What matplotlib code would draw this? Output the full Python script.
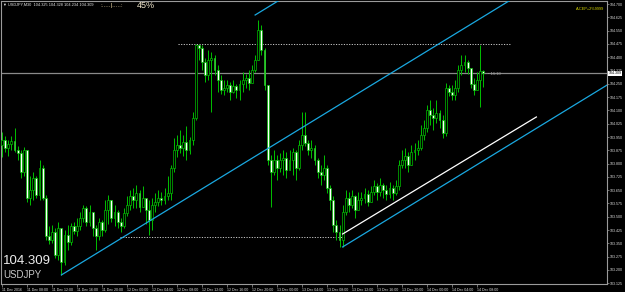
import matplotlib
matplotlib.use("Agg")
import matplotlib.pyplot as plt

# USDJPY M30 candles (bar 0 .. bar 154)
opens = [103.905, 103.933, 103.888, 103.911, 103.928, 103.877, 103.860, 103.753, 103.877, 103.606,
         103.651, 103.719, 103.623, 103.775, 103.606, 103.392, 103.369, 103.415, 103.285, 103.437,
         103.245, 103.398, 103.358, 103.448, 103.420, 103.448, 103.494, 103.550, 103.471, 103.527,
         103.437, 103.392, 103.471, 103.426, 103.539, 103.595, 103.494, 103.527, 103.471, 103.448,
         103.522, 103.567, 103.617, 103.595, 103.634, 103.556, 103.606, 103.539, 103.483, 103.567,
         103.584, 103.606, 103.595, 103.617, 103.634, 103.775, 103.877, 103.905, 103.888, 103.922,
         103.877, 103.933, 104.058, 104.469, 104.452, 104.373, 104.300, 104.385, 104.396, 104.328,
         104.272, 104.215, 104.227, 104.244, 104.204, 104.238, 104.215, 104.249, 104.272, 104.283,
         104.255, 104.328, 104.385, 104.554, 104.441, 104.244, 103.821, 103.753, 103.821, 103.775,
         103.821, 103.832, 103.764, 103.821, 103.866, 103.775, 103.905, 103.962, 103.916, 103.877,
         103.888, 103.821, 103.753, 103.736, 103.775, 103.663, 103.595, 103.454, 103.415, 103.369,
         103.527, 103.606, 103.567, 103.617, 103.539, 103.595, 103.606, 103.629, 103.584, 103.640,
         103.674, 103.640, 103.680, 103.651, 103.629, 103.663, 103.634, 103.674, 103.792, 103.821,
         103.843, 103.792, 103.866, 103.877, 103.888, 103.962, 104.001, 104.103, 104.074, 104.058,
         104.086, 104.046, 103.973, 104.227, 104.204, 104.187, 104.227, 104.328, 104.356, 104.373,
         104.339, 104.249, 104.215, 104.272, 104.325]
highs = [103.978, 103.956, 103.933, 103.956, 104.001, 103.900, 103.877, 103.894, 103.877, 103.730,
         103.753, 103.730, 103.821, 103.792, 103.623, 103.448, 103.454, 103.437, 103.471, 103.437,
         103.426, 103.454, 103.465, 103.471, 103.494, 103.527, 103.567, 103.561, 103.567, 103.471,
         103.454, 103.494, 103.483, 103.595, 103.623, 103.595, 103.567, 103.539, 103.494, 103.550,
         103.617, 103.651, 103.663, 103.680, 103.651, 103.674, 103.606, 103.595, 103.606, 103.634,
         103.651, 103.640, 103.663, 103.730, 103.792, 103.945, 103.962, 103.990, 103.962, 104.012,
         103.950, 104.091, 104.475, 104.475, 104.469, 104.396, 104.441, 104.430, 104.413, 104.356,
         104.300, 104.272, 104.272, 104.261, 104.272, 104.249, 104.272, 104.317, 104.306, 104.328,
         104.356, 104.413, 104.610, 104.582, 104.452, 104.244, 103.849, 103.877, 103.849, 103.860,
         103.877, 103.866, 103.877, 103.888, 103.877, 103.933, 104.091, 104.091, 103.933, 103.933,
         103.905, 103.832, 103.792, 103.849, 103.792, 103.680, 103.617, 103.483, 103.454, 103.567,
         103.651, 103.640, 103.651, 103.623, 103.640, 103.640, 103.663, 103.651, 103.674, 103.708,
         103.691, 103.719, 103.691, 103.680, 103.697, 103.680, 103.708, 103.821, 103.877, 103.888,
         103.866, 103.905, 103.916, 103.933, 104.018, 104.046, 104.131, 104.159, 104.114, 104.159,
         104.103, 104.074, 104.255, 104.244, 104.244, 104.272, 104.356, 104.413, 104.413, 104.385,
         104.339, 104.283, 104.317, 104.469, 104.328]
lows = [103.838, 103.866, 103.843, 103.877, 103.866, 103.821, 103.719, 103.730, 103.584, 103.567,
        103.595, 103.606, 103.595, 103.595, 103.369, 103.347, 103.353, 103.268, 103.257, 103.172,
        103.229, 103.313, 103.341, 103.403, 103.392, 103.426, 103.471, 103.448, 103.448, 103.392,
        103.313, 103.369, 103.392, 103.415, 103.460, 103.471, 103.448, 103.437, 103.415, 103.437,
        103.505, 103.539, 103.550, 103.550, 103.527, 103.561, 103.460, 103.398, 103.426, 103.527,
        103.561, 103.567, 103.572, 103.595, 103.595, 103.753, 103.838, 103.860, 103.843, 103.821,
        103.855, 103.905, 104.046, 104.385, 104.328, 104.261, 104.272, 104.091, 104.300, 104.204,
        104.193, 104.187, 104.204, 104.159, 104.198, 104.170, 104.159, 104.204, 104.227, 104.215,
        104.283, 104.317, 104.396, 104.413, 104.215, 103.792, 103.556, 103.736, 103.708, 103.753,
        103.736, 103.719, 103.764, 103.736, 103.708, 103.764, 103.877, 103.900, 103.849, 103.832,
        103.792, 103.719, 103.680, 103.708, 103.634, 103.539, 103.415, 103.369, 103.330, 103.330,
        103.510, 103.527, 103.550, 103.494, 103.539, 103.567, 103.578, 103.561, 103.595, 103.623,
        103.595, 103.617, 103.606, 103.595, 103.606, 103.595, 103.623, 103.651, 103.775, 103.775,
        103.753, 103.809, 103.821, 103.849, 103.877, 103.933, 103.978, 104.018, 103.990, 104.029,
        104.001, 103.945, 103.956, 104.182, 104.159, 104.159, 104.204, 104.300, 104.317, 104.306,
        104.227, 104.187, 104.227, 104.120, 104.234]
closes = [103.933, 103.888, 103.911, 103.928, 103.877, 103.860, 103.753, 103.877, 103.606, 103.651,
          103.719, 103.623, 103.775, 103.606, 103.392, 103.369, 103.415, 103.285, 103.437, 103.245,
          103.398, 103.358, 103.448, 103.420, 103.448, 103.494, 103.550, 103.471, 103.527, 103.437,
          103.392, 103.471, 103.426, 103.539, 103.595, 103.494, 103.527, 103.471, 103.448, 103.522,
          103.567, 103.617, 103.595, 103.634, 103.556, 103.606, 103.539, 103.483, 103.567, 103.584,
          103.606, 103.595, 103.617, 103.634, 103.775, 103.877, 103.905, 103.888, 103.922, 103.877,
          103.933, 104.058, 104.469, 104.452, 104.373, 104.300, 104.385, 104.396, 104.328, 104.272,
          104.215, 104.227, 104.244, 104.204, 104.238, 104.215, 104.249, 104.272, 104.283, 104.255,
          104.328, 104.385, 104.554, 104.441, 104.244, 103.821, 103.753, 103.821, 103.775, 103.821,
          103.832, 103.764, 103.821, 103.866, 103.775, 103.905, 103.962, 103.916, 103.877, 103.888,
          103.821, 103.753, 103.736, 103.775, 103.663, 103.595, 103.454, 103.415, 103.369, 103.527,
          103.606, 103.567, 103.617, 103.539, 103.595, 103.606, 103.629, 103.584, 103.640, 103.674,
          103.640, 103.680, 103.651, 103.629, 103.663, 103.634, 103.674, 103.792, 103.821, 103.843,
          103.792, 103.866, 103.877, 103.888, 103.962, 104.001, 104.103, 104.074, 104.058, 104.086,
          104.046, 103.973, 104.227, 104.204, 104.187, 104.227, 104.328, 104.356, 104.373, 104.339,
          104.249, 104.215, 104.272, 104.325, 104.309]

time_labels = ["11 Dec 2016", "11 Dec 08:00", "11 Dec 12:00", "11 Dec 16:00", "11 Dec 20:00",
               "12 Dec 00:00", "12 Dec 04:00", "12 Dec 08:00", "12 Dec 12:00", "12 Dec 16:00",
               "12 Dec 20:00", "13 Dec 00:00", "13 Dec 04:00", "13 Dec 08:00", "13 Dec 12:00",
               "13 Dec 16:00", "13 Dec 20:00", "14 Dec 00:00", "14 Dec 04:00", "14 Dec 08:00"]
label_bars = [0, 8, 16, 24, 32, 40, 48, 56, 64, 72, 80, 88, 96, 104, 112, 120, 128, 136, 144, 152]
price_ticks = [103.125, 103.200, 103.275, 103.350, 103.425, 103.500, 103.575, 103.650, 103.725,
               103.800, 103.875, 103.950, 104.025, 104.100, 104.175, 104.250, 104.325, 104.400,
               104.475, 104.550, 104.625, 104.700]

last_price = 104.309
# trend / channel objects: (bar, price) anchors
trend_main = [(19, 103.172), (109, 104.143)]
trend_upper = [(81, 104.638), (171, 105.609)]
trend_lower = [(109, 103.330), (199, 104.301)]
white_line = [(109, 103.403), (171, 104.063)]
hi_level, hi_from, hi_to = 104.475, 56.3, 162.6
lo_level, lo_from, lo_to = 103.386, 37.8, 109.8

GREEN = "#00c000"
CYAN = "#1aa8e0"
GREY = "#9a9a9a"
SMALL = "Liberation Sans"
SZ = 2.6

fig = plt.figure(figsize=(6.25, 2.92), dpi=100, facecolor="black")
ax = fig.add_axes([1 / 625, 8 / 292, 606 / 625, 283 / 292], facecolor="black")

for i, (o, h, l, c) in enumerate(zip(opens, highs, lows, closes)):
    top = max(h, o, c)
    bot = min(l, o, c)
    ax.vlines(i, bot, top, color=GREEN, lw=0.7, zorder=2)
    body_lo, body_hi = min(o, c), max(o, c)
    fill = "white" if c < o else "black"
    ax.add_patch(plt.Rectangle((i - 0.3, body_lo), 0.6, max(body_hi - body_lo, 0.002),
                               facecolor=fill, edgecolor=GREEN, lw=0.5, zorder=3))

# horizontal levels
ax.axhline(last_price, color="#8a8a8a", lw=0.9, zorder=1)
ax.hlines(hi_level, hi_from, hi_to, color="#c8c8c8", lw=0.7, linestyles=(0, (1.2, 1.5)), zorder=1)
ax.hlines(lo_level, lo_from, lo_to, color="#c8c8c8", lw=0.7, linestyles=(0, (1.2, 1.5)), zorder=1)

# channel lines (rays to the right)
for (b0, p0), (b1, p1) in (trend_main, trend_upper, trend_lower):
    slope = (p1 - p0) / (b1 - b0)
    ax.plot([b0, 200], [p0, p0 + slope * (200 - b0)], color=CYAN, lw=0.9, zorder=4)
(b0, p0), (b1, p1) = white_line
ax.plot([b0, b1], [p0, p1], color="white", lw=0.9, zorder=4)

ax.set_xlim(-0.32, 193.6)
ax.set_ylim(103.121, 104.717)

for s in ax.spines.values():
    s.set_color(GREY)
    s.set_linewidth(0.8)

ax.yaxis.tick_right()
ax.set_yticks(price_ticks)
ax.set_yticklabels([f"{p:.3f}" for p in price_ticks], family=SMALL)
ax.tick_params(axis="y", colors=GREY, labelcolor="#e0e0e0", labelsize=SZ, length=1.5, width=0.5, pad=0.6)
ax.set_xticks(label_bars)
ax.set_xticklabels(time_labels, ha="left", family=SMALL)
ax.tick_params(axis="x", colors=GREY, labelcolor="#e0e0e0", labelsize=SZ, length=2, width=0.5, pad=0.6)

# current price tag on the scale
ax.text(1.003, last_price, f"{last_price:.3f}", transform=ax.get_yaxis_transform(),
        fontsize=SZ, color="black", va="center", ha="left", family=SMALL,
        bbox=dict(boxstyle="square,pad=0.15", facecolor="white", edgecolor="none"))
ax.text(155.5, last_price - 0.006, "\u25aa 16:10", fontsize=SZ + 0.4, color="#a0a0a0", va="center",
        ha="left", family=SMALL)

# header texts
fig.text(3 / 625, 1 - 5 / 292, "\u25bc USDJPY,M30  104.325 104.328 104.234 104.309",
         fontsize=SZ + 0.2, color="#e8e8e8", va="center", ha="left", family=["Liberation Sans", "DejaVu Sans"])
fig.text(100 / 625, 1 - 6 / 292, ":.....|.....:", fontsize=4.5, color="#e6d2a0",
         va="center", ha="left", family=SMALL)
fig.text(137 / 625, 1 - 6 / 292, "45%", fontsize=6.5, color="#f0e6cc", va="center", ha="left",
         family="Liberation Sans")
fig.text(604 / 625, 1 - 9 / 292, "A-CEP+2%9999", fontsize=SZ + 0.2, color="#d8d800", va="center",
         ha="right", family=SMALL)

fig.text(3 / 625, 1 - 261 / 292, "104.309", fontsize=9.5, color="#ececec", va="center", ha="left",
         family="Liberation Sans")
fig.text(3 / 625, 1 - 275 / 292, "USDJPY", fontsize=7, color="#c8c8c8", va="center", ha="left",
         family="Liberation Sans")

fig.savefig("out.png", dpi=100, facecolor="black")
